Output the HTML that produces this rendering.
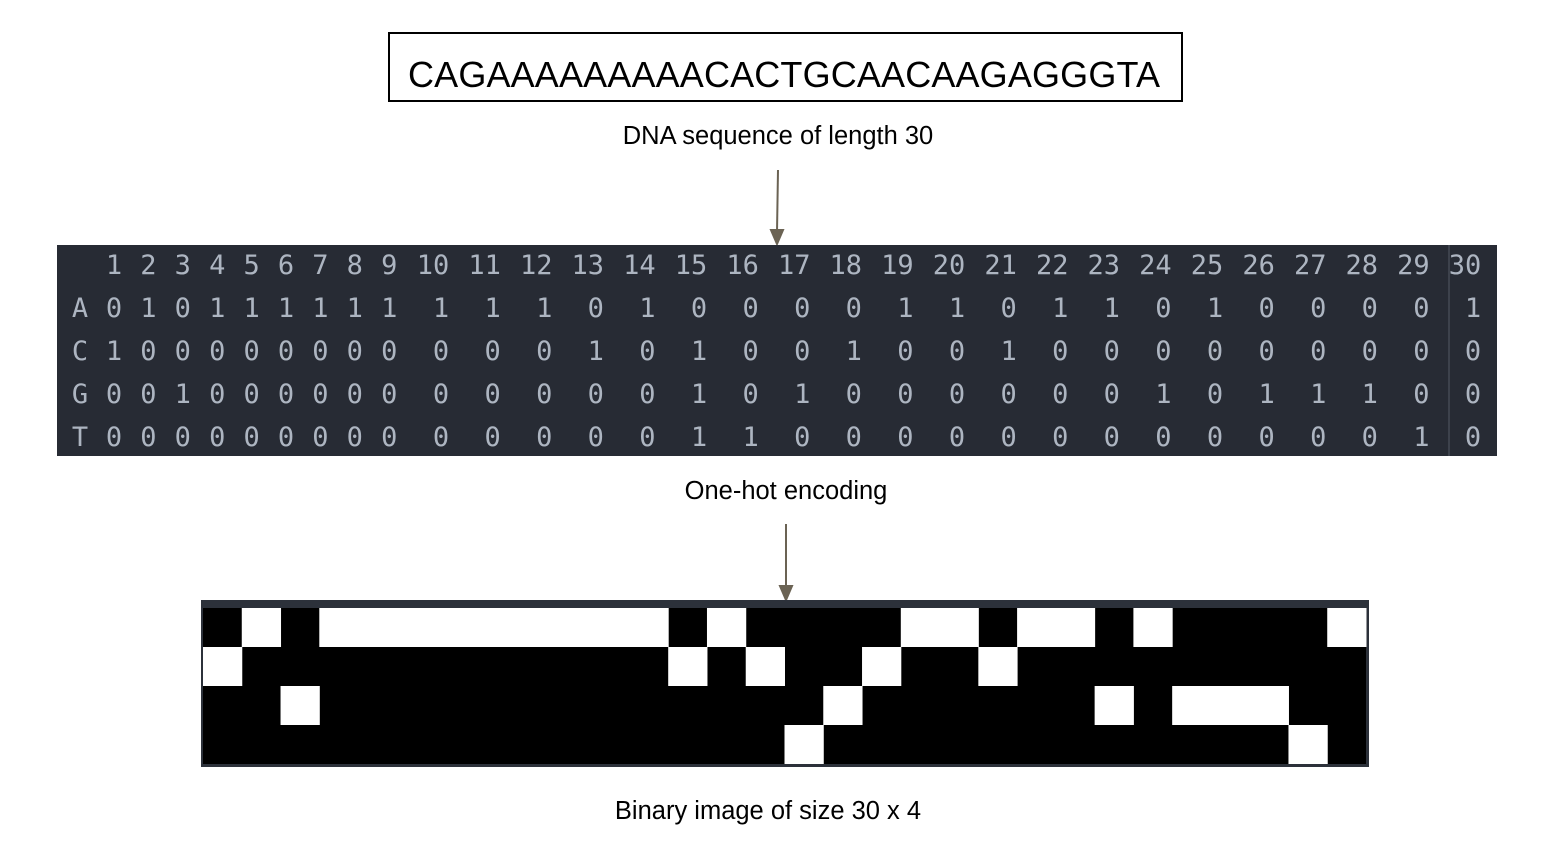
<!DOCTYPE html>
<html><head><meta charset="utf-8"><style>
body{margin:0;background:#fff;width:1548px;height:856px;overflow:hidden}
svg{display:block}
</style></head><body>
<svg width="1548" height="856">
<rect x="389" y="33" width="793" height="68" fill="#fff" stroke="#000" stroke-width="2"/>
<text x="784" y="87" text-anchor="middle" font-family="Liberation Sans, sans-serif" font-size="36" fill="#000" textLength="752">CAGAAAAAAAAACACTGCAACAAGAGGGTA</text>
<text x="778" y="144" text-anchor="middle" font-family="Liberation Sans, sans-serif" font-size="25.5" fill="#000">DNA sequence of length 30</text>
<g stroke="#6b6354" stroke-width="2" fill="#6b6354"><line x1="778" y1="170" x2="777" y2="232"/><polygon points="771,230 783,230 777,244"/></g>
<rect x="57" y="245" width="1440" height="211" fill="#272b34"/>
<line x1="1449" y1="245" x2="1449" y2="456" stroke="#3d424c" stroke-width="2"/>
<g id="tbl" font-family="DejaVu Sans Mono, Liberation Mono, monospace" font-size="27" fill="#adb5c1" text-anchor="middle"></g>
<text x="786" y="499" text-anchor="middle" font-family="Liberation Sans, sans-serif" font-size="25.5" fill="#000">One-hot encoding</text>
<g stroke="#6b6354" stroke-width="2" fill="#6b6354"><line x1="786" y1="524" x2="786" y2="588"/><polygon points="780,586 792,586 786,600"/></g>
<rect x="201" y="600" width="1168" height="167" fill="#2c313a"/>
<rect x="203" y="608" width="1163" height="156" fill="#000"/>
<g id="img"></g>
<text x="768" y="819" text-anchor="middle" font-family="Liberation Sans, sans-serif" font-size="25.5" fill="#000">Binary image of size 30 x 4</text>
</svg>
<script>
const bases=["A","C","G","T"];
const rowA=[0,1,0,1,1,1,1,1,1,1,1,1,0,1,0,0,0,0,1,1,0,1,1,0,1,0,0,0,0,1];
const rowC=[1,0,0,0,0,0,0,0,0,0,0,0,1,0,1,0,0,1,0,0,1,0,0,0,0,0,0,0,0,0];
const rowG=[0,0,1,0,0,0,0,0,0,0,0,0,0,0,1,0,1,0,0,0,0,0,0,1,0,1,1,1,0,0];
const rowT=[0,0,0,0,0,0,0,0,0,0,0,0,0,0,1,1,0,0,0,0,0,0,0,0,0,0,0,0,1,0];
const imgRow0=[0,1,0,1,1,1,1,1,1,1,1,1,0,1,0,0,0,0,1,1,0,1,1,0,1,0,0,0,0,1];
const imgRow1=[1,0,0,0,0,0,0,0,0,0,0,0,1,0,1,0,0,1,0,0,1,0,0,0,0,0,0,0,0,0];
const imgRow2=[0,0,1,0,0,0,0,0,0,0,0,0,0,0,0,0,1,0,0,0,0,0,0,1,0,1,1,1,0,0];
const imgRow3=[0,0,0,0,0,0,0,0,0,0,0,0,0,0,0,1,0,0,0,0,0,0,0,0,0,0,0,0,1,0];
const NS="http://www.w3.org/2000/svg";
const tbl=document.getElementById('tbl');
function colX(i){return i<9?114+i*34.4:433+(i-9)*51.6;}
function valX(i){return i<9?colX(i):colX(i)+8;}
function t(x,y,s,name){const e=document.createElementNS(NS,'text');e.setAttribute('x',x);e.setAttribute('y',y);e.textContent=s;


tbl.appendChild(e);}
for(let i=0;i<30;i++)t(colX(i),274,String(i+1),'column-header');
const rows=[rowA,rowC,rowG,rowT];
rows.forEach((r,ri)=>{const y=317+ri*43;t(80,y,bases[ri],'row-label');
r.forEach((v,i)=>t(i===29?1473:valX(i),y,String(v),'cell-value'));});
const img=document.getElementById('img');
const cw=1163/30,ch=39;
[imgRow0,imgRow1,imgRow2,imgRow3].forEach((r,ri)=>r.forEach((v,i)=>{if(!v)return;
const e=document.createElementNS(NS,'rect');e.setAttribute('x',203+i*cw);e.setAttribute('y',608+ri*ch);
e.setAttribute('width',cw+0.5);e.setAttribute('height',ch);e.setAttribute('fill','#fff');


img.appendChild(e);}));
</script>
</body></html>
